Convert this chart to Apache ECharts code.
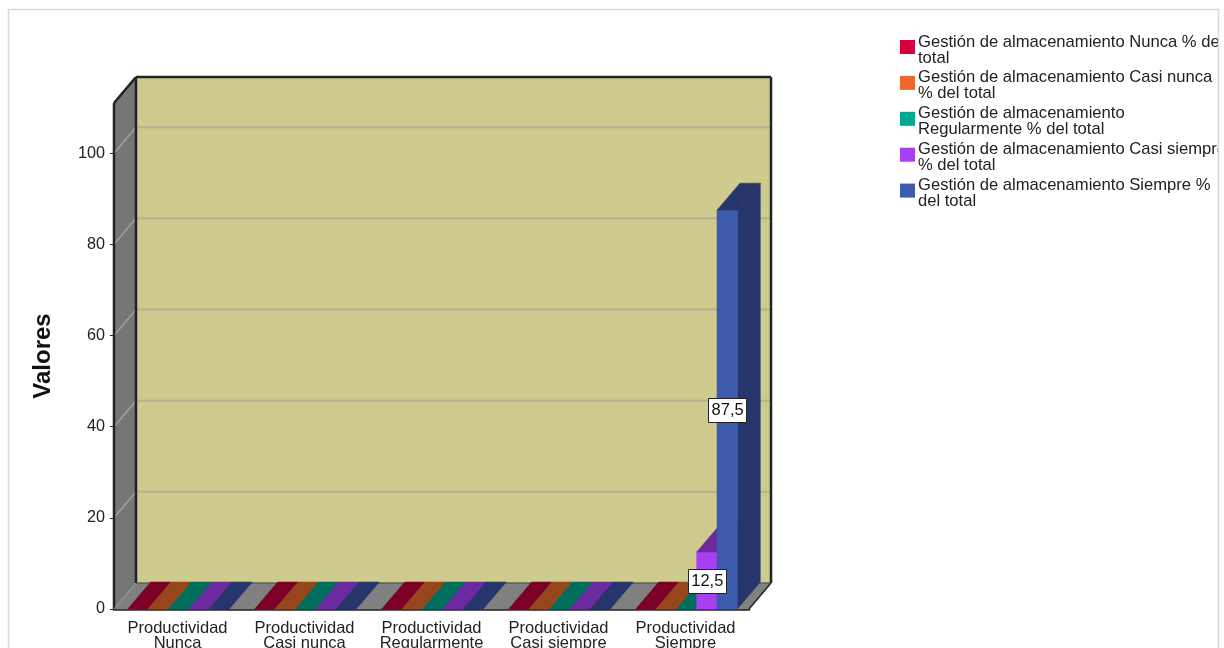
<!DOCTYPE html>
<html>
<head>
<meta charset="utf-8">
<style>
  html, body { margin: 0; padding: 0; background: #fff; overflow: hidden; }
  #chart { width: 1224px; height: 648px; }
</style>
<script src="https://cdn.jsdelivr.net/npm/echarts@6/dist/echarts.min.js"></script>
</head>
<body>
<div id="chart"></div>
<script>
// Clustered pseudo-3D columns: share of the total per Productividad level.
const categories = [
  'Productividad\nNunca',
  'Productividad\nCasi nunca',
  'Productividad\nRegularmente',
  'Productividad\nCasi siempre',
  'Productividad\nSiempre'
];
const seriesNames = [
  'Gestión de almacenamiento Nunca % del\ntotal',
  'Gestión de almacenamiento Casi nunca\n% del total',
  'Gestión de almacenamiento\nRegularmente % del total',
  'Gestión de almacenamiento Casi siempre\n% del total',
  'Gestión de almacenamiento Siempre %\ndel total'
];
const nunca = [0, 0, 0, 0, 0];
const casiNunca = [0, 0, 0, 0, 0];
const regularmente = [0, 0, 0, 0, 0];
const casiSiempre = [0, 0, 0, 0, 12.5];
const siempre = [0, 0, 0, 0, 87.5];
const yTicks = [0, 20, 40, 60, 80, 100];

const seriesValues = [nunca, casiNunca, regularmente, casiSiempre, siempre];
const frontColors = ['#d4003c', '#f0672c', '#00a98f', '#a640f0', '#3d5aad'];
const shadeColors = ['#7d0026', '#97461c', '#006e5d', '#6b2a9f', '#26356b'];

// Projection of the depth axis on screen.
const DEPTH_X = 22;
const DEPTH_Y = -26;
const CLUSTER_RATIO = 0.8;
const CLUSTER_NUDGE = 1;
const EDGE = '#222222';

// Legend swatch sits in the upper part of its box, so it rides above the text block's centre.
const LEGEND_ICON = 'path://M0 0H15V14H0ZM0 20V20';

function poly(points, fill, stroke, lineWidth) {
  return {
    type: 'polygon',
    shape: { points },
    style: { fill, stroke: stroke || fill, lineWidth: lineWidth === undefined ? 0.5 : lineWidth }
  };
}
function seg(a, b, stroke, lineWidth) {
  return {
    type: 'line',
    shape: { x1: a[0], y1: a[1], x2: b[0], y2: b[1] },
    style: { stroke, lineWidth }
  };
}

// Back wall, side wall, floor and the gridlines that run across them.
function renderRoom(params, api) {
  const cs = params.coordSys;
  const left = cs.x, right = cs.x + cs.width;
  const top = cs.y, base = api.coord([0, 0])[1];
  const shift = p => [p[0] + DEPTH_X, p[1] + DEPTH_Y];
  const children = [
    poly([shift([left, top]), shift([right, top]), shift([right, base]), shift([left, base])], '#cfcb8f'),
    poly([[left, top], shift([left, top]), shift([left, base]), [left, base]], '#767676'),
    poly([[left, base], [right, base], shift([right, base]), shift([left, base])], '#808080')
  ];
  yTicks.forEach(v => {
    const y = api.coord([0, v])[1];
    if (v > 0) {
      children.push(seg([left, y], shift([left, y]), '#a0a0a0', 1.5));
      children.push(seg(shift([left, y]), shift([right, y]), '#b5b193', 2));
    }
  });
  children.push(
    seg([left, top], [left, base], EDGE, 2.5),
    seg([left, top], shift([left, top]), EDGE, 2.5),
    seg(shift([left, top]), shift([right, top]), EDGE, 2.5),
    seg(shift([right, top]), shift([right, base]), EDGE, 2.5),
    seg(shift([left, top]), shift([left, base]), EDGE, 2.5),
    seg(shift([left, base]), shift([right, base]), '#444444', 1),
    seg([right, base], shift([right, base]), EDGE, 1.5),
    seg([left, base], shift([left, base]), '#9a9a9a', 1)
  );
  return { type: 'group', children };
}

function barSpan(api, index, seriesIndex) {
  const band = api.size([1, 0])[0];
  const cluster = band * CLUSTER_RATIO;
  const width = cluster / seriesValues.length;
  const x0 = api.coord([index, 0])[0] - cluster / 2 + seriesIndex * width + CLUSTER_NUDGE;
  return { x0, x1: x0 + width };
}

function makeBarRenderer(seriesIndex) {
  return function (params, api) {
    const { x0, x1 } = barSpan(api, api.value(0), seriesIndex);
    const yBase = api.coord([0, 0])[1];
    const yTop = api.coord([0, api.value(1)])[1];
    const children = [];
    if (yBase - yTop > 0) {
      children.push(poly([[x1, yTop], [x1 + DEPTH_X + 1, yTop + DEPTH_Y - 1], [x1 + DEPTH_X + 1, yBase + DEPTH_Y - 1], [x1, yBase]], shadeColors[seriesIndex]));
      children.push(poly([[x0, yTop], [x1, yTop], [x1, yBase], [x0, yBase]], frontColors[seriesIndex]));
    }
    children.push(poly([[x0, yTop], [x1, yTop], [x1 + DEPTH_X + 1, yTop + DEPTH_Y - 1], [x0 + DEPTH_X + 1, yTop + DEPTH_Y - 1]], shadeColors[seriesIndex]));
    return { type: 'group', children };
  };
}

// Boxed value labels sit over every column, at mid-height of the front face.
function renderValueBox(params, api) {
  const seriesIndex = api.value(2);
  const { x0, x1 } = barSpan(api, api.value(0), seriesIndex);
  const value = api.value(1);
  const yBase = api.coord([0, 0])[1];
  const yTop = api.coord([0, value])[1];
  const cx = (x0 + x1) / 2, cy = (yBase + yTop) / 2;
  const w = 38, h = 24;
  return {
    type: 'group',
    children: [
      { type: 'rect', shape: { x: Math.round(cx - w / 2) + 0.5, y: Math.round(cy - h / 2) + 0.5, width: w, height: h },
        style: { fill: '#ffffff', stroke: '#222222', lineWidth: 1 } },
      { type: 'text', style: { x: cx + 0.5, y: cy + 1, text: String(value).replace('.', ','), fill: '#111111',
          font: '16.5px "Liberation Sans"', align: 'center', verticalAlign: 'middle' } }
    ]
  };
}

const labelData = [];
seriesValues.forEach((values, s) => values.forEach((v, i) => { if (v > 0) labelData.push([i, v, s]); }));

const chart = echarts.init(document.getElementById('chart'), null, { renderer: 'canvas' });
chart.setOption({
  animation: false,
  backgroundColor: '#ffffff',
  grid: { left: 114, top: 103, width: 635, height: 506, containLabel: false, outerBoundsMode: 'none' },
  legend: {
    orient: 'vertical',
    left: 895,
    top: 28.5,
    itemWidth: 15,
    itemHeight: 20,
    itemGap: 2.9,
    icon: LEGEND_ICON,
    selectedMode: false,
    data: seriesNames,
    textStyle: { color: '#222222', fontFamily: 'Liberation Sans', fontSize: 16.6, lineHeight: 16, padding: [0, 0, 0, -2] }
  },
  xAxis: {
    type: 'category',
    data: categories,
    axisLine: { show: true, lineStyle: { color: EDGE, width: 2.5 } },
    axisTick: { show: false },
    axisLabel: { color: '#222222', fontFamily: 'Liberation Sans', fontSize: 16.5, lineHeight: 15, margin: 12, interval: 0 }
  },
  yAxis: {
    type: 'value',
    min: 0,
    max: 111,
    interval: 20,
    name: 'Valores',
    nameLocation: 'middle',
    nameGap: 59,
    nameTextStyle: { color: '#111111', fontFamily: 'Liberation Sans', fontSize: 24, fontWeight: 'bold' },
    axisLine: { show: false },
    axisTick: { show: true, length: 4, customValues: yTicks, lineStyle: { color: EDGE, width: 1 } },
    splitLine: { show: false },
    axisLabel: { color: '#222222', fontFamily: 'Liberation Sans', fontSize: 16.2, margin: 9, customValues: yTicks }
  },
  series: [
    { type: 'custom', name: 'room', z: 1, clip: false, silent: true, data: [[0, 0]], renderItem: renderRoom },
    ...seriesNames.map((name, s) => ({
      type: 'custom',
      name,
      z: 2 + s,
      clip: false,
      itemStyle: { color: frontColors[s] },
      encode: { x: 0, y: 1 },
      data: seriesValues[s].map((v, i) => [i, v]),
      renderItem: makeBarRenderer(s)
    })),
    { type: 'custom', name: 'values', z: 20, clip: false, silent: true, data: labelData, renderItem: renderValueBox }
  ],
  graphic: [
    { type: 'rect', z: 100, silent: true, shape: { x: 1218, y: 0, width: 6, height: 648 }, style: { fill: '#ffffff' } },
    { type: 'polyline', z: 101, silent: true, shape: { points: [[8.5, 648], [8.5, 9.5], [1218.5, 9.5], [1218.5, 648]] },
      style: { fill: 'none', stroke: '#d9d9d9', lineWidth: 1.5 } }
  ]
});
</script>
</body>
</html>
